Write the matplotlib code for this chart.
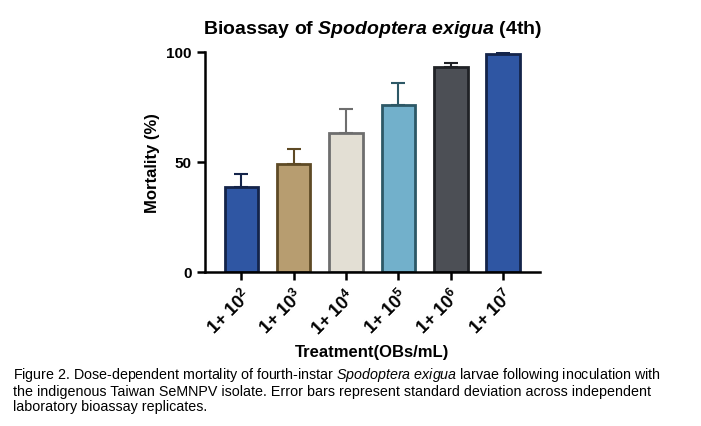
import matplotlib.pyplot as plt
import numpy as np

labels = ['$\\mathbf{1{+}\\ 10^{2}}$', '$\\mathbf{1{+}\\ 10^{3}}$', '$\\mathbf{1{+}\\ 10^{4}}$',
          '$\\mathbf{1{+}\\ 10^{5}}$', '$\\mathbf{1{+}\\ 10^{6}}$', '$\\mathbf{1{+}\\ 10^{7}}$']
mortality = [38.6, 49, 63, 76, 93, 99]
sd = [6, 7, 11, 10, 2, 1]
fill = ['#2f56a3', '#b79d70', '#e3dfd4', '#72b0cb', '#4c4f55', '#2f56a3']
edge = ['#14244a', '#5e4a25', '#6e6e6e', '#2d5866', '#202226', '#14244a']

plt.rcParams['font.family'] = ['Liberation Sans', 'DejaVu Sans']
plt.rcParams['mathtext.fontset'] = 'custom'
plt.rcParams['mathtext.bf'] = 'Liberation Sans:bold'
plt.rcParams['mathtext.rm'] = 'Liberation Sans'
plt.rcParams['mathtext.it'] = 'Liberation Sans:italic'
plt.rcParams['mathtext.bfit'] = 'Liberation Sans:italic:bold'

fig = plt.figure(figsize=(7.01, 4.27), dpi=100)
ax = fig.add_axes([0.292, 0.361, 0.478, 0.515])
x = np.arange(len(mortality))
for i in x:
    ax.bar(i, mortality[i], width=0.64, color=fill[i], edgecolor=edge[i], linewidth=2, zorder=2)
    ax.errorbar(i, mortality[i], yerr=[[0], [sd[i]]], color=edge[i], capsize=5,
                elinewidth=1.5, capthick=1.5, zorder=1)
ax.set_xlim(-0.7, 5.7)
ax.set_ylim(0, 100)
ax.set_yticks([0, 50, 100])
ax.set_xticks(x)
ax.set_xticklabels(labels, rotation=45, ha='right', rotation_mode='anchor', fontsize=13)
for s in ['top', 'right']:
    ax.spines[s].set_visible(False)
for s in ['left', 'bottom']:
    ax.spines[s].set_linewidth(1.8)
ax.tick_params(width=1.8, length=6)
for t in ax.get_yticklabels():
    t.set_fontweight('bold'); t.set_fontsize(11)
ax.set_ylabel('Mortality (%)', fontsize=12, fontweight='bold')
ax.set_xlabel('Treatment(OBs/mL)', fontsize=12, fontweight='bold', labelpad=4)
ax.set_title('Bioassay of $\\mathbfit{Spodoptera\\ exigua}$ (4th)', fontsize=14,
             fontweight='bold', pad=14)

fig.text(0.018, 0.03,
         'Figure 2. Dose-dependent mortality of fourth-instar $\\it{Spodoptera\\ exigua}$ larvae following inoculation with\n'
         'the indigenous Taiwan SeMNPV isolate. Error bars represent standard deviation across independent\n'
         'laboratory bioassay replicates.', fontsize=10.3, linespacing=1.1, va='bottom')
fig.savefig('out.png', dpi=100)
